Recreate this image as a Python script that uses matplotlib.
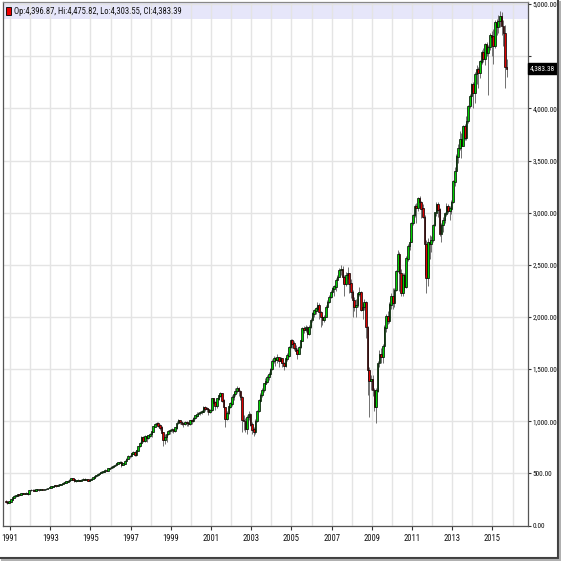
import matplotlib
matplotlib.use('Agg')
import matplotlib.pyplot as plt
from matplotlib.patches import Rectangle
from matplotlib.lines import Line2D
from matplotlib.transforms import blended_transform_factory
import numpy as np

# monthly bars, Oct 1990 .. Sep 2015
start_year, start_month = 1990, 10
first_open = 232.0

closes = [
    225, 218, 230,
    250, 268, 285, 288, 298, 292, 305, 310, 306, 312, 302, 340,
    338, 342, 336, 344, 346, 340, 350, 344, 348, 350, 360, 366,
    372, 377, 384, 380, 390, 394, 398, 410, 414, 422, 426, 438,
    452, 440, 425, 430, 436, 428, 438, 448, 440, 444, 430, 436,
    448, 462, 472, 482, 496, 504, 514, 516, 532, 528, 546, 552,
    560, 572, 580, 594, 604, 608, 585, 596, 620, 640, 668, 665,
    690, 700, 680, 720, 760, 790, 850, 810, 856, 840, 862, 875,
    900, 950, 976, 985, 960, 940, 890, 820, 850, 880, 905, 915,
    920, 905, 940, 985, 1005, 990, 980, 975, 990, 985, 975, 1005,
    1000, 1030, 1056, 1070, 1080, 1088, 1095, 1136, 1120, 1115, 1090, 1105,
    1216, 1180, 1152, 1216, 1248, 1264, 1200, 1136, 1024, 1080, 1140, 1168,
    1232, 1260, 1290, 1312, 1290, 1232, 1010, 1000, 930, 1040, 1072, 970,
    920, 900, 1000, 1100, 1200, 1250, 1300, 1360, 1380, 1424, 1450, 1500,
    1580, 1600, 1590, 1616, 1580, 1600, 1560, 1536, 1600, 1632, 1712, 1776,
    1744, 1700, 1680, 1648, 1712, 1776, 1888, 1880, 1904, 1840, 1904, 1968,
    2032, 2060, 2080, 2112, 2048, 2000, 1968, 2000, 2096, 2144, 2192, 2240,
    2272, 2290, 2352, 2384, 2448, 2460, 2384, 2320, 2400, 2416, 2320, 2240,
    2160, 2096, 2112, 2224, 2240, 2064, 2096, 2144, 1904, 1490, 1392, 1400,
    1300, 1140, 1296, 1560, 1640, 1620, 1720, 1900, 2010, 1960, 2120, 2200,
    2140, 2260, 2440, 2600, 2420, 2230, 2400, 2290, 2560, 2680, 2720, 2900,
    2980, 3060, 3050, 3140, 3100, 3040, 2960, 2700, 2380, 2720, 2700, 2740,
    2880, 3000, 3080, 3030, 2800, 2880, 2930, 2990, 3060, 3020, 3040, 3100,
    3300, 3400, 3540, 3620, 3700, 3640, 3830, 3720, 3880, 4020, 4120, 4230,
    4150, 4330, 4380, 4340, 4450, 4540, 4480, 4620, 4530, 4590, 4700, 4690,
    4600, 4830, 4780, 4840, 4880, 4790, 4720, 4396.87, 4383.39,
]

highs = [
    240, 230, 234,
    254, 272, 290, 294, 302, 300, 308, 314, 314, 318, 316, 344,
    346, 348, 346, 348, 352, 350, 354, 354, 352, 356, 362, 370,
    376, 382, 390, 388, 394, 398, 402, 414, 420, 428, 432, 442,
    458, 456, 444, 436, 442, 440, 442, 452, 452, 450, 448, 442,
    452, 466, 476, 486, 500, 510, 520, 522, 538, 536, 550, 558,
    566, 580, 588, 600, 612, 616, 614, 604, 626, 646, 676, 680,
    700, 712, 710, 726, 766, 800, 858, 856, 866, 870, 872, 886,
    910, 958, 984, 996, 992, 970, 950, 898, 880, 900, 918, 930,
    936, 930, 948, 998, 1020, 1012, 1000, 990, 1004, 1000, 996, 1012,
    1020, 1040, 1064, 1084, 1090, 1100, 1110, 1144, 1146, 1132, 1130, 1118,
    1226, 1224, 1190, 1224, 1260, 1278, 1270, 1210, 1140, 1100, 1152, 1180,
    1250, 1280, 1320, 1340, 1330, 1300, 1240, 1060, 1030, 1060, 1100, 1080,
    990, 940, 1020, 1110, 1210, 1270, 1320, 1370, 1410, 1440, 1470, 1510,
    1600, 1630, 1620, 1640, 1620, 1620, 1610, 1570, 1620, 1650, 1720, 1790,
    1790, 1770, 1730, 1700, 1720, 1790, 1900, 1910, 1920, 1910, 1920, 1990,
    2050, 2080, 2100, 2140, 2130, 2060, 2020, 2020, 2110, 2160, 2210, 2260,
    2290, 2310, 2370, 2400, 2470, 2500, 2490, 2400, 2430, 2480, 2420, 2360,
    2260, 2190, 2170, 2240, 2290, 2250, 2130, 2170, 2150, 1910, 1520, 1440,
    1440, 1320, 1320, 1580, 1680, 1700, 1740, 1920, 2030, 2060, 2140, 2230,
    2280, 2280, 2450, 2640, 2620, 2460, 2420, 2420, 2580, 2700, 2760, 2910,
    2990, 3080, 3090, 3150, 3160, 3110, 3080, 2980, 2740, 2760, 2790, 2780,
    2890, 3010, 3100, 3100, 3040, 2900, 2960, 3010, 3090, 3080, 3060, 3120,
    3310, 3440, 3560, 3660, 3780, 3760, 3840, 3850, 3930, 4030, 4140, 4240,
    4250, 4350, 4420, 4400, 4460, 4560, 4580, 4630, 4640, 4610, 4720, 4740,
    4760, 4850, 4860, 4900, 4930, 4920, 4850, 4800, 4475.82,
]

lows = [
    215, 210, 214,
    226, 246, 262, 278, 284, 286, 290, 300, 300, 302, 296, 298,
    330, 332, 330, 332, 338, 334, 338, 338, 340, 342, 346, 356,
    360, 366, 372, 372, 376, 384, 388, 396, 404, 410, 414, 422,
    434, 434, 418, 416, 424, 422, 424, 434, 434, 434, 424, 424,
    432, 444, 458, 468, 478, 490, 500, 506, 512, 518, 524, 540,
    540, 554, 566, 574, 588, 596, 560, 578, 590, 614, 636, 648,
    656, 682, 670, 662, 716, 750, 786, 800, 800, 800, 826, 850,
    850, 896, 944, 960, 948, 920, 880, 760, 780, 800, 870, 880,
    896, 886, 896, 930, 970, 970, 960, 946, 960, 958, 956, 966,
    970, 990, 1020, 1040, 1050, 1060, 1070, 1090, 1100, 1090, 1060, 1080,
    1100, 1166, 1110, 1130, 1200, 1236, 1180, 1120, 940, 1010, 1070, 1126,
    1150, 1200, 1240, 1270, 1240, 1200, 900, 920, 900, 880, 1010, 950,
    880, 860, 880, 990, 1090, 1180, 1230, 1280, 1330, 1370, 1400, 1440,
    1490, 1560, 1530, 1560, 1520, 1560, 1520, 1490, 1520, 1580, 1620, 1700,
    1700, 1680, 1640, 1600, 1640, 1700, 1770, 1850, 1860, 1800, 1830, 1890,
    1950, 2000, 2030, 2060, 1980, 1900, 1920, 1950, 2000, 2080, 2130, 2180,
    2220, 2200, 2250, 2350, 2380, 2400, 2330, 2200, 2300, 2360, 2230, 2180,
    2000, 2060, 2000, 2100, 2200, 2060, 1980, 2070, 1800, 1250, 1040, 1300,
    1240, 1100, 980, 1280, 1520, 1560, 1560, 1700, 1860, 1930, 1940, 2080,
    2080, 2100, 2250, 2430, 2250, 2200, 2200, 2260, 2280, 2540, 2640, 2720,
    2880, 2960, 2900, 3020, 3040, 2950, 2950, 2400, 2230, 2300, 2560, 2620,
    2720, 2870, 2970, 2960, 2780, 2720, 2810, 2900, 2970, 3000, 2930, 2990,
    3090, 3260, 3400, 3480, 3600, 3520, 3640, 3700, 3700, 3860, 4000, 4030,
    4000, 4050, 4230, 4200, 4290, 4430, 4440, 4420, 4500, 4130, 4560, 4500,
    4430, 4580, 4700, 4720, 4780, 4700, 4600, 4200, 4303.55,
]

header = 'Op:4,396.87, Hi:4,475.82, Lo:4,303.55, Cl:4,383.39'
last_label = '4,383.38'
last_value = 4383.39
year_labels = list(range(1991, 2016, 2))
price_ticks = [0, 500, 1000, 1500, 2000, 2500, 3000, 3500, 4000, 4500, 5000]

plt.rcParams['font.family'] = ['Roboto Condensed', 'DejaVu Sans']
FS = 6.2
FS_Y = 5.3

closes = np.array(closes, dtype=float)
highs = np.array(highs, dtype=float)
lows = np.array(lows, dtype=float)
opens = np.concatenate([[first_open], closes[:-1]])
n = len(closes)
t = start_year + (start_month - 1 + np.arange(n) + 0.5) / 12.0

fig = plt.figure(figsize=(5.61, 5.61), dpi=100)
W = 561.0
ax = fig.add_axes([3 / W, 1 - 525.5 / W, 525 / W, 523.5 / W])
ax.set_xlim(1990.652, 2016.77)
ax.set_ylim(0, 5020)

# header band
ax.add_patch(Rectangle((0, 1 - 17 / 523.5), 1, 17 / 523.5, transform=ax.transAxes,
                       facecolor='#e6e6fa', edgecolor='none', zorder=0))

# grid
for y in range(1991, 2017):
    ax.axvline(y, color='#e4e4e4', lw=1, zorder=1)
for p in price_ticks:
    ax.axhline(p, color='#e4e4e4', lw=1, zorder=1)

up = closes >= opens
colors = np.where(up, '#00d000', '#dd0000')
ax.vlines(t, lows, highs, color='#707070', lw=0.7, zorder=2)
ax.bar(t, np.abs(closes - opens) + 4, bottom=np.minimum(opens, closes) - 2,
       width=0.08, color=colors, edgecolor='black', linewidth=0.5, zorder=3)

# axes styling
ax.yaxis.tick_right()
ax.set_yticks(price_ticks)
ax.set_yticklabels(['' if p == 4500 else f'{p:,.2f}' for p in price_ticks])
ax.set_xticks(year_labels)
ax.set_xticklabels([str(y) for y in year_labels])
ax.tick_params(axis='both', direction='out', length=3, width=0.8, color='#333333',
               labelsize=FS, labelcolor='#111111')
ax.tick_params(axis='x', pad=3)
ax.tick_params(axis='y', pad=1, length=2.5, labelsize=FS_Y)
for s in ax.spines.values():
    s.set_color('#555555')
    s.set_linewidth(0.9)
ax.spines['top'].set_color('#888888')

# header text with red marker
ax.add_patch(Rectangle((3 / 525, 1 - 13 / 523.5), 5 / 525, 8 / 523.5, transform=ax.transAxes,
                       facecolor='#ee0000', edgecolor='black', lw=0.6, zorder=5))
ax.text(11 / 525, 1 - 9 / 523.5, header, transform=ax.transAxes, fontsize=FS,
        va='center', ha='left', color='#111111', zorder=5)

# last price box
trans = blended_transform_factory(ax.transAxes, ax.transData)
ax.text(1.004, last_value, last_label, transform=trans, fontsize=FS_Y, color='white',
        va='center', ha='left', clip_on=False, zorder=6,
        bbox=dict(boxstyle='square,pad=0.25', facecolor='black', edgecolor='black'))

# outer frame with shadow
fig.add_artist(Line2D([0, 557.5 / W], [1 - 557.5 / W] * 2, transform=fig.transFigure,
                      color='#404040', lw=1.5))
fig.add_artist(Line2D([557.5 / W] * 2, [1 - 557.5 / W, 1], transform=fig.transFigure,
                      color='#404040', lw=1.5))
fig.add_artist(Line2D([2 / W, 559.5 / W], [1 - 559.5 / W] * 2, transform=fig.transFigure,
                      color='#b0b0b0', lw=1.5))
fig.add_artist(Line2D([559.5 / W] * 2, [1 - 559.5 / W, 1 - 2 / W], transform=fig.transFigure,
                      color='#b0b0b0', lw=1.5))

fig.savefig('out.png', dpi=100, facecolor='white')
